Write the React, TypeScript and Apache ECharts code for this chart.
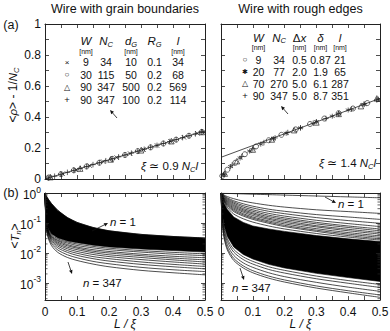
import React, { useEffect, useRef } from 'react';
import * as echarts from 'echarts';

const FONT = '"Liberation Sans", Arial, Helvetica, sans-serif';
const INK = '#111';
const AX = '#222';

// ---------- (a) left: wire with grain boundaries ----------
const gbCrossX = [0.013, 0.055, 0.097, 0.14, 0.182, 0.224, 0.266, 0.308, 0.35, 0.392, 0.434, 0.476];
const gbCrossY = [0.009, 0.034, 0.059, 0.086, 0.112, 0.138, 0.164, 0.19, 0.216, 0.243, 0.269, 0.295];
const gbCircleX = [0.012, 0.05, 0.09, 0.13, 0.17, 0.21, 0.25, 0.29, 0.33, 0.37, 0.41, 0.45, 0.49];
const gbCircleY = [0.01, 0.031, 0.056, 0.081, 0.105, 0.13, 0.155, 0.18, 0.204, 0.229, 0.254, 0.279, 0.304];
const gbTriX = [0.017, 0.11, 0.205, 0.3, 0.395, 0.49];
const gbTriY = [0.012, 0.067, 0.126, 0.185, 0.244, 0.303];
const gbPlusX = [0.01, 0.03, 0.05, 0.07, 0.09, 0.11, 0.13, 0.15, 0.17, 0.19, 0.21, 0.23, 0.25, 0.27, 0.29, 0.31, 0.33, 0.35, 0.37, 0.39, 0.41, 0.43, 0.45, 0.47, 0.49];
const gbPlusY = [0.006, 0.018, 0.031, 0.043, 0.056, 0.068, 0.081, 0.093, 0.105, 0.118, 0.13, 0.143, 0.155, 0.167, 0.18, 0.192, 0.205, 0.217, 0.229, 0.242, 0.254, 0.267, 0.279, 0.291, 0.304];
const fitX = [0, 0.5];
const gbFitY = [0, 0.31];

// ---------- (a) right: wire with rough edges ----------
const reCircleX = [0.004, 0.02, 0.045, 0.075, 0.11, 0.15, 0.19, 0.235, 0.28, 0.325, 0.37, 0.415, 0.46];
const reCircleY = [0.02, 0.06, 0.105, 0.16, 0.21, 0.25, 0.285, 0.32, 0.355, 0.39, 0.425, 0.455, 0.49];
const reStarX = [0.008, 0.03, 0.06, 0.09, 0.125, 0.165, 0.205, 0.25, 0.3, 0.35, 0.4, 0.45, 0.495];
const reStarY = [0.03, 0.08, 0.135, 0.18, 0.225, 0.26, 0.295, 0.33, 0.37, 0.405, 0.445, 0.48, 0.515];
const reTriX = [0.012, 0.05, 0.1, 0.16, 0.23, 0.3, 0.37, 0.44, 0.49];
const reTriY = [0.035, 0.115, 0.19, 0.255, 0.315, 0.365, 0.42, 0.47, 0.52];
const rePlusX = [0.01, 0.035, 0.065, 0.1, 0.135, 0.17, 0.21, 0.25, 0.29, 0.33, 0.37, 0.41, 0.45, 0.49];
const rePlusY = [0.03, 0.09, 0.145, 0.195, 0.235, 0.265, 0.3, 0.33, 0.36, 0.39, 0.42, 0.45, 0.485, 0.51];
const reFitY = [0.14, 0.52];

// ---------- (b) transmissions, log10 <T_n> sampled at TX ----------
const TX = [0, 0.004, 0.01, 0.02, 0.04, 0.07, 0.1, 0.15, 0.2, 0.3, 0.4, 0.5];

const gbBandTop = [0, -0.1, -0.2, -0.35, -0.58, -0.82, -0.98, -1.15, -1.26, -1.38, -1.45, -1.5];
const gbBandBottom = [0, -0.88, -1.18, -1.36, -1.5, -1.6, -1.66, -1.74, -1.8, -1.87, -1.92, -1.97];
const gbLowerCurves = [
  [0, -0.9, -1.2, -1.38, -1.53, -1.63, -1.7, -1.78, -1.84, -1.92, -1.98, -2.03],
  [0, -0.92, -1.23, -1.42, -1.57, -1.67, -1.75, -1.83, -1.89, -1.97, -2.04, -2.09],
  [0, -0.94, -1.26, -1.45, -1.6, -1.72, -1.8, -1.89, -1.95, -2.04, -2.11, -2.16],
  [0, -0.96, -1.28, -1.47, -1.64, -1.76, -1.84, -1.94, -2.0, -2.09, -2.17, -2.23],
  [0, -0.98, -1.3, -1.5, -1.68, -1.81, -1.89, -1.99, -2.06, -2.15, -2.23, -2.3],
  [0, -1.0, -1.32, -1.53, -1.72, -1.86, -1.95, -2.05, -2.12, -2.22, -2.3, -2.37],
  [0, -1.05, -1.35, -1.57, -1.77, -1.92, -2.01, -2.12, -2.19, -2.3, -2.38, -2.45],
  [0, -1.1, -1.4, -1.62, -1.83, -1.98, -2.08, -2.19, -2.27, -2.38, -2.46, -2.53],
  [0, -1.15, -1.45, -1.68, -1.9, -2.06, -2.16, -2.28, -2.36, -2.48, -2.56, -2.62],
  [0, -1.2, -1.5, -1.75, -1.98, -2.15, -2.25, -2.37, -2.46, -2.58, -2.66, -2.73],
];

const reUpperCurves = [
  [0, -0.004, -0.008, -0.013, -0.02, -0.03, -0.04, -0.055, -0.07, -0.1, -0.13, -0.16],
  [0, -0.03, -0.07, -0.12, -0.19, -0.27, -0.33, -0.41, -0.47, -0.56, -0.62, -0.68],
  [0, -0.04, -0.09, -0.16, -0.26, -0.36, -0.44, -0.54, -0.61, -0.72, -0.8, -0.88],
  [0, -0.05, -0.11, -0.19, -0.3, -0.42, -0.5, -0.61, -0.69, -0.82, -0.92, -1.01],
  [0, -0.06, -0.13, -0.22, -0.34, -0.47, -0.56, -0.68, -0.77, -0.91, -1.02, -1.12],
  [0, -0.07, -0.15, -0.25, -0.38, -0.52, -0.61, -0.74, -0.83, -0.98, -1.1, -1.2],
  [0, -0.08, -0.17, -0.28, -0.42, -0.56, -0.66, -0.79, -0.88, -1.03, -1.15, -1.26],
  [0, -0.09, -0.19, -0.31, -0.46, -0.6, -0.7, -0.84, -0.93, -1.09, -1.21, -1.32],
  [0, -0.1, -0.21, -0.34, -0.5, -0.64, -0.75, -0.88, -0.98, -1.13, -1.26, -1.37],
  [0, -0.11, -0.23, -0.37, -0.54, -0.69, -0.8, -0.93, -1.03, -1.19, -1.32, -1.43],
  [0, -0.12, -0.25, -0.4, -0.58, -0.73, -0.84, -0.97, -1.08, -1.24, -1.37, -1.48],
  [0, -0.13, -0.27, -0.43, -0.62, -0.77, -0.88, -1.01, -1.12, -1.28, -1.42, -1.53],
  [0, -0.14, -0.3, -0.48, -0.7, -0.86, -0.97, -1.1, -1.2, -1.35, -1.47, -1.57],
];
const reBandTop = [0, -0.16, -0.35, -0.55, -0.8, -0.98, -1.1, -1.2, -1.28, -1.42, -1.53, -1.62];
const reBandBottom = [0, -0.7, -1.1, -1.45, -1.8, -2.05, -2.2, -2.38, -2.5, -2.68, -2.82, -2.95];
const reLowerCurves = [
  [0, -0.75, -1.17, -1.53, -1.88, -2.13, -2.28, -2.46, -2.58, -2.77, -2.92, -3.05],
  [0, -0.8, -1.25, -1.62, -1.97, -2.22, -2.37, -2.55, -2.67, -2.86, -3.01, -3.15],
  [0, -0.88, -1.35, -1.73, -2.08, -2.33, -2.48, -2.66, -2.79, -2.98, -3.14, -3.28],
  [0, -0.95, -1.45, -1.83, -2.18, -2.43, -2.59, -2.77, -2.9, -3.1, -3.26, -3.4],
  [0, -1.0, -1.52, -1.9, -2.25, -2.5, -2.66, -2.84, -2.97, -3.17, -3.33, -3.48],
];

// ---------- tables ----------
const gbTableSym = ['×', '○', '△', '+'];
const gbTableW = ['9', '30', '90', '90'];
const gbTableNc = ['34', '115', '347', '347'];
const gbTableDg = ['10', '50', '500', '100'];
const gbTableRg = ['0.1', '0.2', '0.2', '0.2'];
const gbTableL = ['34', '68', '569', '114'];

const reTableSym = ['○', '✱', '△', '+'];
const reTableW = ['9', '20', '70', '90'];
const reTableNc = ['34', '77', '270', '347'];
const reTableDx = ['0.5', '2.0', '5.0', '5.0'];
const reTableDelta = ['0.87', '1.9', '6.1', '8.7'];
const reTableL = ['21', '65', '287', '351'];

const LOG_MIN = 2.7e-4;

const CROSS = 'path://M0,0L10,10M10,0L0,10';
const PLUS = 'path://M5,0L5,10M0,5L10,5';
const STAR = 'path://M5,0L5,10M0.67,2.5L9.33,7.5M0.67,7.5L9.33,2.5';

const RICH: any = {
  i: { fontStyle: 'italic', fontSize: 11.5, fontFamily: FONT, fill: INK, color: INK, lineHeight: 14 },
  s: { fontStyle: 'italic', fontSize: 7.5, fontFamily: FONT, fill: INK, color: INK, lineHeight: 6, verticalAlign: 'bottom' },
};

function zip(xs: number[], ys: number[]) {
  return xs.map((x, i) => [x, ys[i]]);
}
function logCurve(vals: number[]) {
  return TX.map((x, i) => [x, Math.pow(10, vals[i])]);
}

function txt(x: number, y: number, text: string, size = 11.5, extra: any = {}, el: any = {}) {
  return {
    type: 'text', x, y, silent: true, z: 100, ...el,
    style: {
      text, fontSize: size, fontFamily: FONT, fill: INK, lineHeight: 14,
      align: 'center', verticalAlign: 'middle', textAlign: 'center', textVerticalAlign: 'middle',
      rich: RICH, ...extra,
    },
  };
}

function arrow(x1: number, y1: number, x2: number, y2: number) {
  const a = Math.atan2(y2 - y1, x2 - x1);
  const L = 4, W = 1.8;
  const bx = x2 - L * Math.cos(a), by = y2 - L * Math.sin(a);
  return [
    { type: 'line', silent: true, z: 100, shape: { x1, y1, x2: bx, y2: by }, style: { stroke: INK, lineWidth: 0.8 } },
    {
      type: 'polygon', silent: true, z: 100,
      shape: { points: [[x2, y2], [bx + W * Math.sin(a), by - W * Math.cos(a)], [bx - W * Math.sin(a), by + W * Math.cos(a)]] },
      style: { fill: INK },
    },
  ];
}

function xAx(g: number, pos: string, labels: boolean) {
  return {
    type: 'value', gridIndex: g, position: pos, min: 0, max: 0.5, interval: 0.1, z: 10,
    axisLine: { show: true, onZero: false, lineStyle: { color: AX, width: 1 } },
    axisTick: { show: true, inside: true, length: 4, lineStyle: { color: AX, width: 0.8 } },
    minorTick: { show: true, splitNumber: 2, length: 4, lineStyle: { color: AX, width: 0.8 } },
    splitLine: { show: false }, minorSplitLine: { show: false },
    axisLabel: { show: labels, margin: 6, fontSize: 12, fontFamily: FONT, color: INK },
  };
}
function yLin(g: number, pos: string, labels: boolean) {
  return {
    type: 'value', gridIndex: g, position: pos, min: 0, max: 1, interval: 0.2, z: 10,
    axisLine: { show: true, onZero: false, lineStyle: { color: AX, width: 1 } },
    axisTick: { show: true, inside: true, length: 4, lineStyle: { color: AX, width: 0.8 } },
    minorTick: { show: true, splitNumber: 2, length: 4, lineStyle: { color: AX, width: 0.8 } },
    splitLine: { show: false }, minorSplitLine: { show: false },
    axisLabel: { show: labels, margin: 4, fontSize: 12, fontFamily: FONT, color: INK },
  };
}
function yLog(g: number, pos: string, labels: boolean) {
  return {
    type: 'log', logBase: 10, gridIndex: g, position: pos, min: LOG_MIN, max: 1, z: 10,
    axisLine: { show: true, onZero: false, lineStyle: { color: AX, width: 1 } },
    axisTick: { show: true, inside: true, length: 4, lineStyle: { color: AX, width: 0.8 } },
    splitLine: { show: false },
    axisLabel: {
      show: labels, margin: 4, fontFamily: FONT, color: INK,
      formatter: (v: number) => {
        const l = Math.log10(v);
        const e = Math.round(l);
        if (Math.abs(l - e) > 1e-6) return '';
        return '{b|10}{sup|' + e + '}';
      },
      rich: {
        b: { fontSize: 12, fontFamily: FONT, color: INK, lineHeight: 16, verticalAlign: 'bottom' },
        sup: { fontSize: 8.5, fontFamily: FONT, color: INK, lineHeight: 8, verticalAlign: 'top' },
      },
    },
  };
}

function scatter(g: number, data: number[][], symbol: string, size = 5) {
  return {
    type: 'scatter', xAxisIndex: 2 * g, yAxisIndex: 2 * g, data, symbol, symbolSize: size, silent: true, z: 5,
    itemStyle: { color: 'transparent', borderColor: '#222', borderWidth: 0.7, opacity: 1 },
  };
}
function fitLine(g: number, data: number[][]) {
  return {
    type: 'line', xAxisIndex: 2 * g, yAxisIndex: 2 * g, data, showSymbol: false, silent: true, z: 4,
    lineStyle: { color: '#222', width: 0.8 },
  };
}
function tLine(g: number, vals: number[]) {
  return {
    type: 'line', xAxisIndex: 2 * g, yAxisIndex: 2 * g, data: logCurve(vals), showSymbol: false, silent: true,
    smooth: 0.3, z: 4, lineStyle: { color: '#000', width: 0.7 },
  };
}
function band(g: number, top: number[], bot: number[]) {
  return {
    type: 'custom', xAxisIndex: 2 * g, yAxisIndex: 2 * g, silent: true, z: 3, clip: true,
    data: [[0.25, 0.01]], encode: { x: 0, y: 1 },
    renderItem: (_p: any, api: any) => {
      const pts: number[][] = [];
      TX.forEach((x, i) => pts.push(api.coord([x, Math.pow(10, top[i])])));
      for (let i = TX.length - 1; i >= 0; i--) pts.push(api.coord([TX[i], Math.pow(10, bot[i])]));
      return { type: 'polygon', shape: { points: pts }, style: { fill: '#000', stroke: '#000', lineWidth: 0.6 } };
    },
  };
}
function minorLogTicks(g: number) {
  const vals: number[][] = [];
  for (let d = -4; d < 0; d++) {
    for (let k = 2; k <= 9; k++) {
      const v = k * Math.pow(10, d);
      if (v > LOG_MIN && v < 1) vals.push([0, v]);
    }
  }
  return {
    type: 'custom', xAxisIndex: 2 * g, yAxisIndex: 2 * g, silent: true, z: 12, clip: false,
    data: vals, encode: { x: 0, y: 1 },
    renderItem: (_p: any, api: any) => {
      const v = api.value(1);
      const a = api.coord([0, v]);
      const b = api.coord([0.5, v]);
      return {
        type: 'group',
        children: [
          { type: 'line', shape: { x1: a[0], y1: a[1], x2: a[0] + 2.5, y2: a[1] }, style: { stroke: AX, lineWidth: 0.7 } },
          { type: 'line', shape: { x1: b[0] - 2.5, y1: b[1], x2: b[0], y2: b[1] }, style: { stroke: AX, lineWidth: 0.7 } },
        ],
      };
    },
  };
}

function tableGraphics() {
  const els: any[] = [];
  const NUM = 10.5;
  // left table
  const lc = [86, 106, 131, 154.5, 178];
  els.push(txt(lc[0], 41, '{i|W}'));
  els.push(txt(lc[1], 41, '{i|N}{s|C}'));
  els.push(txt(lc[2], 41, '{i|d}{s|G}'));
  els.push(txt(lc[3], 41, '{i|R}{s|G}'));
  els.push(txt(lc[4], 41, '{i|l}'));
  [lc[0], lc[2], lc[4]].forEach((x) => els.push(txt(x, 51.5, '[nm]', 7)));
  const lr = [62, 74.5, 87, 99.5];
  lr.forEach((y, i) => {
    els.push(txt(67, y, gbTableSym[i], i === 3 ? 9.5 : 8));
    els.push(txt(lc[0], y, gbTableW[i], NUM));
    els.push(txt(lc[1], y, gbTableNc[i], NUM));
    els.push(txt(lc[2], y, gbTableDg[i], NUM));
    els.push(txt(lc[3], y, gbTableRg[i], NUM));
    els.push(txt(lc[4], y, gbTableL[i], NUM));
  });
  // right table
  const rc = [258.5, 279, 299.5, 320.5, 340];
  els.push(txt(rc[0], 37.5, '{i|W}'));
  els.push(txt(rc[1], 37.5, '{i|N}{s|C}'));
  els.push(txt(rc[2], 37.5, 'Δ{i|x}'));
  els.push(txt(rc[3], 37.5, '{i|δ}'));
  els.push(txt(rc[4], 37.5, '{i|l}'));
  [rc[0], rc[2], rc[3], rc[4]].forEach((x) => els.push(txt(x, 47.5, '[nm]', 7)));
  const rr = [59.5, 71.5, 83.5, 95.5];
  rr.forEach((y, i) => {
    els.push(txt(245, y, reTableSym[i], i === 3 ? 9.5 : i === 1 ? 7 : 8));
    els.push(txt(rc[0], y, reTableW[i], NUM));
    els.push(txt(rc[1], y, reTableNc[i], NUM));
    els.push(txt(rc[2], y, reTableDx[i], NUM));
    els.push(txt(rc[3], y, reTableDelta[i], NUM));
    els.push(txt(rc[4], y, reTableL[i], NUM));
  });
  return els;
}

function buildOption(): any {
  const grids = [
    { left: 45, top: 24, width: 160, height: 155 },
    { left: 221, top: 24, width: 159, height: 155 },
    { left: 45, top: 193, width: 160, height: 107 },
    { left: 221, top: 193, width: 159, height: 107 },
  ].map((g) => ({ ...g, containLabel: false, outerBoundsMode: 'none', show: false }));

  const xAxis = [
    xAx(0, 'bottom', false), xAx(0, 'top', false),
    xAx(1, 'bottom', false), xAx(1, 'top', false),
    xAx(2, 'bottom', true), xAx(2, 'top', false),
    xAx(3, 'bottom', true), xAx(3, 'top', false),
  ];
  const yAxis = [
    yLin(0, 'left', true), yLin(0, 'right', false),
    yLin(1, 'left', false), yLin(1, 'right', false),
    yLog(2, 'left', true), yLog(2, 'right', false),
    yLog(3, 'left', false), yLog(3, 'right', false),
  ];

  const series: any[] = [
    fitLine(0, zip(fitX, gbFitY)),
    scatter(0, zip(gbCrossX, gbCrossY), CROSS, 4.5),
    scatter(0, zip(gbCircleX, gbCircleY), 'circle', 5),
    scatter(0, zip(gbTriX, gbTriY), 'triangle', 5.5),
    scatter(0, zip(gbPlusX, gbPlusY), PLUS, 5.5),
    fitLine(1, zip(fitX, reFitY)),
    scatter(1, zip(reCircleX, reCircleY), 'circle', 5),
    scatter(1, zip(reStarX, reStarY), STAR, 5),
    scatter(1, zip(reTriX, reTriY), 'triangle', 5.5),
    scatter(1, zip(rePlusX, rePlusY), PLUS, 5.5),
    band(2, gbBandTop, gbBandBottom),
    ...gbLowerCurves.map((c) => tLine(2, c)),
    tLine(2, gbBandTop),
    band(3, reBandTop, reBandBottom),
    ...reUpperCurves.map((c) => tLine(3, c)),
    ...reLowerCurves.map((c) => tLine(3, c)),
    minorLogTicks(2),
    minorLogTicks(3),
  ];

  const graphic: any[] = [
    txt(125, 9, 'Wire with grain boundaries', 12.5),
    txt(300.5, 9, 'Wire with rough edges', 12.5),
    txt(11, 25, '(a)', 12.5),
    txt(11, 193, '(b)', 12.5),
    txt(13, 95, '<{i|ρ}> - 1/{i|N}{s|C}', 12, {}, { rotation: Math.PI / 2 }),
    txt(15, 236, '<{i|T}{s|n}>', 12, {}, { rotation: Math.PI / 2 }),
    txt(125, 324, 'L / ξ', 12, { fontStyle: 'italic' }),
    txt(300.5, 324, 'L / ξ', 12, { fontStyle: 'italic' }),
    txt(198, 166, '{i|ξ} ≃ 0.9 {i|N}{s|C}{i|l}', 11.5, { align: 'right', textAlign: 'right' }),
    txt(376, 163, '{i|ξ} ≃ 1.4 {i|N}{s|C}{i|l}', 11.5, { align: 'right', textAlign: 'right' }),
    txt(110, 222, '{i|n} = 1', 11.5, { align: 'left', textAlign: 'left' }),
    txt(83, 283, '{i|n} = 347', 11.5, { align: 'left', textAlign: 'left' }),
    txt(338, 204, '{i|n} = 1', 11.5, { align: 'left', textAlign: 'left' }),
    txt(232, 288, '{i|n} = 347', 11.5, { align: 'left', textAlign: 'left' }),
    ...arrow(117, 118, 110, 110),
    ...arrow(288, 114, 281, 106),
    ...arrow(92, 231, 108, 223),
    ...arrow(68, 262, 72, 274),
    ...arrow(325, 197, 336, 203),
    ...arrow(240, 268, 244, 280),
    ...tableGraphics(),
  ];

  return {
    animation: false,
    backgroundColor: '#fff',
    grid: grids,
    xAxis,
    yAxis,
    series,
    graphic,
  };
}

export default function App() {
  const ref = useRef<HTMLDivElement>(null);
  useEffect(() => {
    const chart = echarts.init(ref.current!, null, { renderer: 'svg' });
    chart.setOption(buildOption());
    return () => chart.dispose();
  }, []);
  return (
    <div
      ref={ref}
      style={{ position: 'absolute', left: 0, top: 0, width: 390, height: 331, background: '#fff' }}
    />
  );
}
